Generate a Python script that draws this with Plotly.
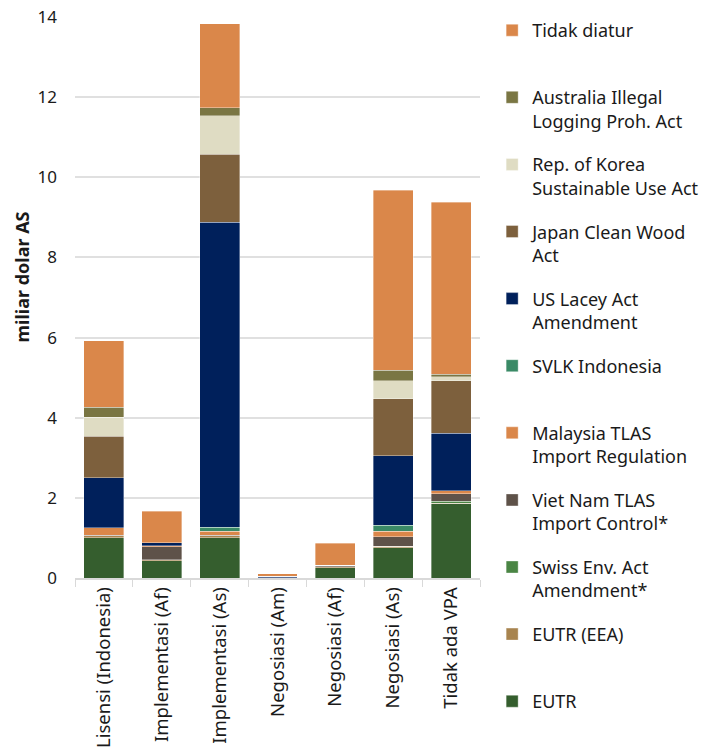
import plotly.graph_objects as go

categories = ["Lisensi (Indonesia)", "Implementasi (Af)", "Implementasi (As)",
              "Negosiasi (Am)", "Negosiasi (Af)", "Negosiasi (As)", "Tidak ada VPA"]

# series, bottom to top of the stack
eutr      = [1.00, 0.43, 1.01, 0.01, 0.26, 0.75, 1.85]
eutr_eea  = [0.05, 0.02, 0.04, 0.00, 0.02, 0.04, 0.02]
swiss     = [0.00, 0.00, 0.00, 0.00, 0.00, 0.00, 0.04]
vietnam   = [0.02, 0.33, 0.02, 0.00, 0.04, 0.24, 0.19]
malaysia  = [0.19, 0.03, 0.10, 0.00, 0.00, 0.14, 0.08]
svlk      = [0.00, 0.00, 0.10, 0.00, 0.00, 0.15, 0.00]
us_lacey  = [1.24, 0.07, 7.61, 0.03, 0.00, 1.73, 1.43]
japan     = [1.04, 0.00, 1.70, 0.00, 0.00, 1.42, 1.31]
korea     = [0.47, 0.00, 0.96, 0.00, 0.00, 0.45, 0.10]
australia = [0.25, 0.00, 0.20, 0.00, 0.00, 0.27, 0.06]
tidak     = [1.66, 0.79, 2.09, 0.06, 0.55, 4.49, 4.30]

series_names = ["EUTR<br> ", "EUTR (EEA)<br> ", "Swiss Env. Act<br>Amendment*",
                "Viet Nam TLAS<br>Import Control*", "Malaysia TLAS<br>Import Regulation",
                "SVLK Indonesia<br> ", "US Lacey Act<br>Amendment", "Japan Clean Wood<br>Act",
                "Rep. of Korea<br>Sustainable Use Act", "Australia Illegal<br>Logging Proh. Act",
                "Tidak diatur<br> "]
series_values = [eutr, eutr_eea, swiss, vietnam, malaysia, svlk, us_lacey, japan,
                 korea, australia, tidak]
series_colors = ["#355E2E", "#A8844F", "#4A8544", "#5E5249", "#DA874A", "#3A8A66",
                 "#00205B", "#7D603D", "#DFDCC3", "#7A7643", "#DA874A"]

yticks = [0, 2, 4, 6, 8, 10, 12, 14]

FONT = "Noto Sans"
TXT = "#1a1a1a"

fig = go.Figure()
n = len(series_names)
for i, (name, vals, col) in enumerate(zip(series_names, series_values, series_colors)):
    fig.add_trace(go.Bar(
        x=categories, y=vals, name=name, legendgroup=f"g{i}", legendrank=100 + n - i,
        marker=dict(color=col, line=dict(color="rgba(255,255,255,0.6)", width=0.6)),
        hovertemplate="%{x}: %{y}<extra></extra>",
    ))

fig.update_layout(
    barmode="stack",
    bargap=0.31,
    width=709, height=751,
    margin=dict(l=74.5, r=228.5, t=5, b=0, autoexpand=False),
    paper_bgcolor="white", plot_bgcolor="white",
    font=dict(family=FONT, size=16, color=TXT),
    showlegend=True,
    legend=dict(
        traceorder="grouped", tracegroupgap=17.3, valign="top",
        x=1.03, xanchor="left", y=0.9906, yanchor="top",
        font=dict(family=FONT, size=18, color=TXT),
        itemwidth=30, bgcolor="rgba(0,0,0,0)",
    ),
    xaxis=dict(
        type="category", tickangle=-90, showline=True, linecolor="#d9d9d9", linewidth=1.5,
        ticks="outside", tickson="boundaries", ticklen=7, tickcolor="#d9d9d9",
        tickfont=dict(family=FONT, size=18.5, color=TXT),
        showgrid=False, anchor="y",
    ),
    yaxis=dict(
        domain=[0.2319, 0.98391],
        range=[0, 14], tickvals=yticks, ticktext=[str(v) for v in yticks],
        showgrid=True, gridcolor="#e0e0e0", gridwidth=1.5,
        zeroline=False, showline=False, ticks="",
        ticklabelstandoff=17,
        tickfont=dict(family=FONT, size=17, color=TXT),
    ),
    annotations=[dict(
        text="<b>miliar dolar AS</b>", textangle=-90, showarrow=False,
        xref="paper", yref="paper", x=-0.132, y=0.6354, xanchor="center", yanchor="middle",
        font=dict(family=FONT, size=18, color=TXT),
    )],
)

fig.write_html("out.html")
